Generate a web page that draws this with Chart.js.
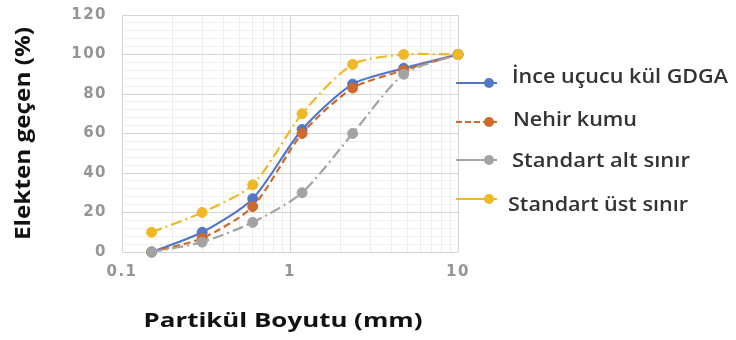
<!DOCTYPE html>
<html>
<head>
<meta charset="utf-8">
<script src="https://cdn.jsdelivr.net/npm/chart.js@4.4.1/dist/chart.umd.min.js"></script>
<style>
  html, body { margin: 0; padding: 0; background: #ffffff; }
  #wrap { position: relative; width: 736px; height: 340px; }
  canvas { display: block; }
</style>
</head>
<body>
<div id="wrap"><canvas id="c" width="736" height="340"></canvas></div>
<script>
// ---- data ----
const sieveSizes = [0.15, 0.3, 0.6, 1.18, 2.36, 4.75, 10];
const seriesNames = ['İnce uçucu kül GDGA', 'Nehir kumu', 'Standart alt sınır', 'Standart üst sınır'];
const inceUcucuKul = [0, 10, 27, 62, 85, 93, 100];
const nehirKumu = [0, 7, 23, 60, 83, 92, 100];
const standartAlt = [0, 5, 15, 30, 60, 90, 100];
const standartUst = [10, 20, 34, 70, 95, 100, 100];
const xTickLabels = [0.1, 1, 10];
const yTickLabels = [0, 20, 40, 60, 80, 100, 120];
const xTitle = 'Partikül Boyutu (mm)';
const yTitle = 'Elekten geçen (%)';

// ---- styles ----
const colors = ['#5277c6', '#cf6a2d', '#a3a3a3', '#efb826'];
const dashes = [[], [7, 4], [11, 4, 2, 4], [11, 4, 2, 4]];

// minor grid positions (log decades 1..9, linear every 4)
const xGrid = [];
for (let d = 0.1; d < 10; d *= 10) for (let k = 1; k < 10; k++) xGrid.push(+(k * d).toFixed(3));
xGrid.push(10);
const yGrid = [];
for (let v = 0; v <= 120; v += 4) yGrid.push(v);

const seriesValues = [inceUcucuKul, nehirKumu, standartAlt, standartUst];
const datasets = seriesValues.map((vals, i) => ({
  label: seriesNames[i],
  data: sieveSizes.map((x, j) => ({ x: x, y: vals[j] })),
  borderColor: colors[i],
  backgroundColor: colors[i],
  borderWidth: 2.2,
  borderDash: dashes[i],
  pointRadius: 5,
  pointBorderWidth: 1,
  pointBorderColor: colors[i],
  pointBackgroundColor: colors[i],
  tension: 0.25,
  clip: false,
  order: 3 - i
}));

function drawFit(ctx, text, x, y, w, font, color, align) {
  ctx.save();
  ctx.font = font;
  ctx.fillStyle = color;
  ctx.textBaseline = 'middle';
  ctx.textAlign = 'left';
  const m = ctx.measureText(text).width;
  const s = w / m;
  ctx.translate(x, y);
  ctx.scale(s, 1);
  const x0 = align === 'center' ? -m / 2 : 0;
  ctx.fillText(text, x0, 0);
  ctx.restore();
}

const legendTextY = [78, 121, 162, 206];
const legendLineY = [83, 122, 160, 199];
const legendTextX = [512, 513, 512, 508];
const legendTextW = [216, 124, 178, 180];

const overlay = {
  id: 'overlay',
  beforeDraw(chart) {
    chart.ctx.letterSpacing = '1.5px';
  },
  afterDraw(chart) {
    const ctx = chart.ctx;
    ctx.save();
    ctx.letterSpacing = '0px';
    // axis titles
    drawFit(ctx, xTitle, 283, 321, 279, 'bold 20px "Open Sans"', '#111111', 'center');
    ctx.save();
    ctx.translate(24, (chart.chartArea.top + chart.chartArea.bottom) / 2);
    ctx.rotate(-Math.PI / 2);
    drawFit(ctx, yTitle, 0, 0, 213, 'bold 22px "Open Sans"', '#111111', 'center');
    ctx.restore();
    // legend
    for (let i = 0; i < seriesNames.length; i++) {
      const ly = legendLineY[i];
      ctx.save();
      ctx.strokeStyle = colors[i];
      ctx.lineWidth = 2.2;
      ctx.setLineDash(i === 1 ? [6, 3] : []);
      ctx.beginPath();
      ctx.moveTo(456, ly);
      ctx.lineTo(497, ly);
      ctx.stroke();
      ctx.fillStyle = colors[i];
      ctx.beginPath();
      ctx.arc(489, ly, 5, 0, Math.PI * 2);
      ctx.fill();
      ctx.restore();
      drawFit(ctx, seriesNames[i], legendTextX[i], legendTextY[i], legendTextW[i], '600 19px "Open Sans"', '#333333', 'left');
    }
    ctx.restore();
  }
};

new Chart(document.getElementById('c'), {
  type: 'line',
  data: { datasets: datasets },
  options: {
    responsive: false,
    animation: false,
    devicePixelRatio: 1,
    layout: { padding: { left: 0, right: 278, top: 15, bottom: 0 } },
    plugins: { legend: { display: false }, tooltip: { enabled: false } },
    scales: {
      x: {
        type: 'logarithmic',
        min: 0.1,
        max: 10,
        afterBuildTicks: (s) => { s.ticks = xGrid.map(v => ({ value: v })); },
        afterFit: (s) => { s.height = 88; },
        border: { display: false },
        grid: {
          drawTicks: false,
          lineWidth: 1,
          color: (c) => (c.tick && xTickLabels.includes(c.tick.value)) ? '#d4d4d4' : '#ececec'
        },
        ticks: {
          autoSkip: false,
          maxRotation: 0,
          padding: 11,
          color: '#959595',
          font: { family: 'DejaVu Sans', size: 15, weight: 'bold' },
          callback: (v) => xTickLabels.includes(+(+v).toFixed(3)) ? String(+(+v).toFixed(3)) : ''
        },
        title: { display: false, text: xTitle }
      },
      y: {
        min: 0,
        max: 120,
        afterBuildTicks: (s) => { s.ticks = yGrid.map(v => ({ value: v })); },
        afterFit: (s) => { s.width = 122; s.paddingTop = 0; s.paddingBottom = 0; },
        border: { display: false },
        grid: {
          drawTicks: false,
          lineWidth: 1,
          color: (c) => (c.tick && yTickLabels.includes(c.tick.value)) ? '#d4d4d4' : '#efefef'
        },
        ticks: {
          autoSkip: false,
          padding: 15,
          color: '#959595',
          font: { family: 'DejaVu Sans', size: 15, weight: 'bold' },
          callback: (v) => yTickLabels.includes(v) ? String(v) : ''
        },
        title: { display: false, text: yTitle }
      }
    }
  },
  plugins: [overlay]
});
</script>
</body>
</html>
